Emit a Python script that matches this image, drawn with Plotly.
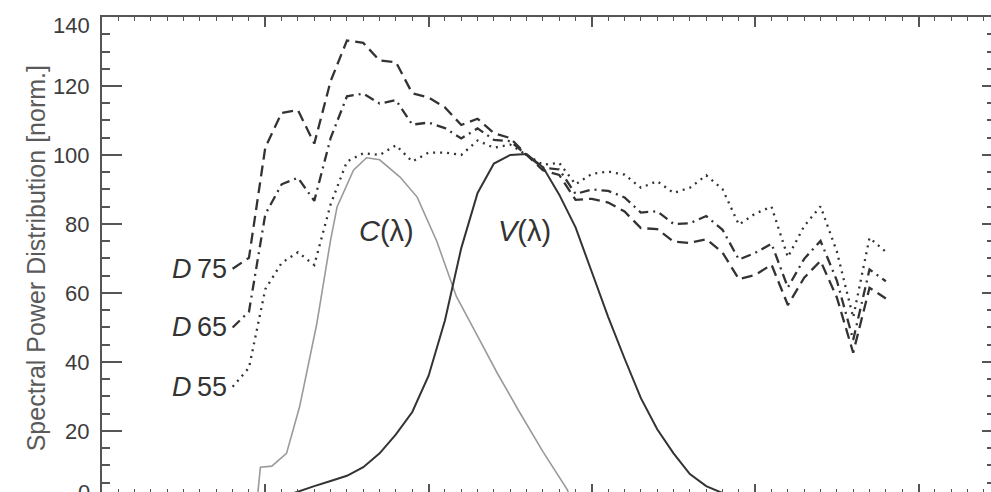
import plotly.graph_objects as go

# ---------------- data ----------------
WL = list(range(380, 781, 10))

D75 = [67.0, 70.2, 102.2, 112.2, 113.0, 103.3, 121.4, 133.2, 132.5, 127.4, 126.9,
       117.9, 116.7, 113.8, 108.7, 110.5, 106.3, 104.9, 100.0, 95.6, 94.2, 87.0,
       87.3, 86.2, 83.6, 78.8, 78.5, 74.9, 74.5, 75.6, 71.7, 64.0, 65.2, 68.2,
       56.5, 64.4, 69.3, 58.7, 42.7, 61.5, 58.4]
D65 = [50.0, 54.6, 82.8, 91.5, 93.4, 86.7, 104.9, 117.0, 117.8, 114.9, 115.9,
       108.8, 109.4, 107.8, 104.8, 107.7, 104.4, 104.0, 100.0, 96.3, 95.8, 88.7,
       90.0, 89.6, 87.7, 83.3, 83.7, 80.0, 80.2, 82.3, 78.3, 69.7, 71.6, 74.3,
       61.6, 69.9, 75.1, 63.6, 46.4, 66.8, 63.4]
D55 = [32.8, 38.3, 61.1, 68.7, 71.8, 68.1, 85.7, 98.1, 100.5, 100.0, 102.8,
       98.1, 100.7, 100.7, 100.0, 104.2, 102.1, 103.0, 100.0, 97.2, 97.7, 91.5,
       94.5, 95.2, 94.3, 90.5, 92.4, 89.0, 90.5, 94.1, 90.1, 79.8, 83.0, 85.0,
       70.4, 79.4, 85.1, 72.0, 52.9, 76.0, 71.9]
V = [0.0, 0.0, 0.2, 0.8, 2.5, 4.0, 5.5, 7.0, 9.5, 13.5, 19.0,
     25.5, 36.0, 52.0, 73.0, 89.0, 97.5, 100.0, 100.3, 96.5, 88.5, 79.0,
     66.0, 53.0, 41.0, 29.5, 20.5, 13.5, 7.5, 4.0, 2.0, 0.9, 0.4, 0.2,
     0.1, 0.0, 0.0, 0.0, 0.0, 0.0, 0.0]

C_WL = [390, 395, 397, 404, 413, 421, 431.5, 434, 440, 444, 454, 462, 470,
        482.5, 493, 505, 517, 530, 542, 555, 570, 585, 587, 600]
C = [0.0, 0.0, 9.5, 9.8, 13.5, 27.0, 51.0, 58.0, 75.4, 85.0, 95.6, 99.2, 98.6,
     93.6, 87.8, 75.0, 59.0, 47.5, 36.8, 26.0, 14.0, 2.9, 0.0, 0.0]

SERIES_LABELS = ["D75", "D65", "D55"]
Y_TICKS = [0, 20, 40, 60, 80, 100, 120, 140]
Y_TITLE = "Spectral Power Distribution [norm.]"

X_RANGE = [300, 844.4]
Y_RANGE = [2.3, 140]

INK = "#333333"
FONT = "Liberation Sans, Arial, Helvetica, sans-serif"

fig = go.Figure()

styles = [("11px,6px", D75), ("10px,5px,2px,5px", D65), ("2px,5px", D55)]
for name, (dash, vals) in zip(SERIES_LABELS, styles):
    fig.add_trace(go.Scatter(x=WL, y=vals, mode="lines", name=name,
                             line=dict(color=INK, width=2.3, dash=dash)))

fig.add_trace(go.Scatter(x=C_WL, y=C, mode="lines", name="C",
                         line=dict(color="#9a9a9a", width=1.6)))
fig.add_trace(go.Scatter(x=WL, y=V, mode="lines", name="V",
                         line=dict(color=INK, width=2.0)))
# invisible trace on the overlay axes so they render
fig.add_trace(go.Scatter(x=[X_RANGE[0]], y=[Y_RANGE[0]], xaxis="x2", yaxis="y2",
                         mode="markers", marker=dict(opacity=0), hoverinfo="skip"))

axis_col = "#555555"
minor_y = list(range(5, 140, 5))
fig.update_layout(
    width=991, height=492,
    margin=dict(l=102, r=0, t=17, b=0),
    paper_bgcolor="white", plot_bgcolor="white",
    showlegend=False,
    font=dict(family=FONT, color=INK),
    xaxis=dict(range=X_RANGE, showline=False, showgrid=False, zeroline=False,
               ticks="inside", tickmode="linear", tick0=300, dtick=100, ticklen=8,
               tickwidth=1.5, tickcolor=axis_col, showticklabels=False,
               minor=dict(ticks="inside", tickmode="linear", tick0=300, dtick=10,
                          ticklen=3, tickwidth=1.2, tickcolor=axis_col)),
    xaxis2=dict(range=X_RANGE, overlaying="x", anchor="y", side="top", showline=True,
                linecolor=axis_col, linewidth=2, showgrid=False, zeroline=False,
                ticks="inside", tickmode="linear", tick0=300, dtick=100, ticklen=10,
                tickwidth=1.5, tickcolor=axis_col, showticklabels=False,
                minor=dict(ticks="inside", tickmode="linear", tick0=300, dtick=10,
                           ticklen=4, tickwidth=1.2, tickcolor=axis_col)),
    yaxis=dict(range=Y_RANGE, showline=True, linecolor=axis_col, linewidth=2,
               showgrid=False, zeroline=False, ticks="inside", tickmode="array",
               tickvals=Y_TICKS[1:-1], ticktext=[str(t) for t in Y_TICKS[1:-1]],
               ticklen=20, tickwidth=2, tickcolor=axis_col,
               tickfont=dict(size=22, color="#3c3c3c", family=FONT),
               ticklabelstandoff=6,
               minor=dict(ticks="inside", tickmode="array", tickvals=minor_y,
                          ticklen=8, tickwidth=1.5, tickcolor=axis_col)),
    yaxis2=dict(range=Y_RANGE, overlaying="y", anchor="x", side="right", showline=False,
                showgrid=False, zeroline=False, ticks="inside", tickmode="array",
                tickvals=Y_TICKS, ticklen=9, tickwidth=2, tickcolor=axis_col,
                showticklabels=False,
                minor=dict(ticks="inside", tickmode="array", tickvals=minor_y,
                           ticklen=4, tickwidth=1.5, tickcolor=axis_col)),
)

# edge tick labels (nudged inward like the original)
def yfrac(v):
    return (v - Y_RANGE[0]) / (Y_RANGE[1] - Y_RANGE[0])

fig.add_annotation(x=0, xref="paper", y=yfrac(Y_TICKS[-1]), yref="paper",
                   text=str(Y_TICKS[-1]), showarrow=False, xanchor="right",
                   yanchor="middle", xshift=-10, yshift=-8,
                   font=dict(size=22, color="#3c3c3c", family=FONT))
fig.add_annotation(x=0, xref="paper", y=yfrac(Y_TICKS[0]), yref="paper",
                   text=str(Y_TICKS[0]), showarrow=False, xanchor="right",
                   yanchor="middle", xshift=-10, yshift=7,
                   font=dict(size=22, color="#3c3c3c", family=FONT))

# y title
fig.add_annotation(x=-0.0922, xref="paper", y=0.492, yref="paper", text=Y_TITLE,
                   textangle=-90, showarrow=False,
                   font=dict(size=25, color="#5a5a5a", family=FONT))

# curve labels
for name, vals in zip(SERIES_LABELS, [D75, D65, D55]):
    fig.add_annotation(x=WL[0], y=vals[0], text="<i>D</i>\u2009" + name[1:],
                       showarrow=False, xanchor="right", xshift=-4,
                       font=dict(size=27, color=INK, family=FONT))
fig.add_annotation(x=474, y=78, text="<i>C</i>(λ)", showarrow=False,
                   font=dict(size=29, color=INK, family=FONT))
fig.add_annotation(x=559, y=78, text="<i>V</i>(λ)", showarrow=False,
                   font=dict(size=29, color=INK, family=FONT))

fig.write_html("out.html", config={"displayModeBar": False},
               post_script="document.body.style.margin='0';document.body.style.overflow='hidden';")
